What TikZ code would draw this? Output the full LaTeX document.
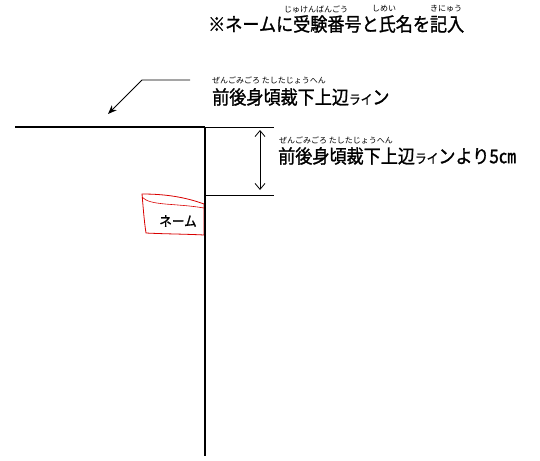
\documentclass[tikz,border=0pt]{standalone}
\usepackage{fontspec}
\newfontfamily\jp{Noto Sans CJK JP}
\newfontfamily\jpmain[FakeStretch=0.9,FakeBold=1.2]{Noto Sans CJK JP}
\usetikzlibrary{arrows.meta}
\begin{document}
\begin{tikzpicture}[x=1pt,y=-1pt,
  main/.style={inner sep=0pt,anchor=west,font=\jpmain\fontsize{19}{19}\selectfont},
  ruby/.style={inner sep=0pt,anchor=west,font=\jp\fontsize{8}{8}\selectfont},
  thick line/.style={line width=2pt,black},
  thin line/.style={line width=0.8pt,black}]
\useasboundingbox (0,0) rectangle (540,460);
% title
\node[main] (title) at (208,24) {※ネームに受験番号と氏名を記入};
\node[ruby] (r1) at (284,9) {じゅけんばんごう};
\node[ruby] (r2) at (372,9) {しめい};
\node[ruby] (r3) at (430,9) {きにゅう};
% top label
\node[main] (lab1) at (212,97) {前後身頃裁下上辺{\fontsize{13}{13}\selectfont ライ}ン};
\node[ruby] (r4) at (212,80) {ぜんごみごろ\ たしたじょうへん};
\coordinate (a0) at (190,80);
\coordinate (a1) at (142,80);
\coordinate (a2) at (108,114);
\draw[thin line,-{Stealth[length=9pt,width=7pt]}] (a0) -- (a1) -- (a2);
% name tag
\draw[red!85!black,line width=0.8pt,fill=white]
  (142,194) .. controls (165,194) and (185,197) .. (204,204)
  -- (204,235) .. controls (185,234) and (165,234) .. (146,233)
  .. controls (144,220) and (143,205) .. (142,194) -- cycle;
\draw[red!85!black,line width=0.6pt]
  (142,197) .. controls (150,206) and (175,203) .. (204,208);
\node[inner sep=0pt,font=\jpmain\fontsize{14}{14}\selectfont] (tag) at (178,221) {ネーム};
% lines
\coordinate (h0) at (15,127);
\coordinate (c) at (205,127);
\coordinate (v1) at (205,456);
\draw[thick line] (h0) -- (c);
\draw[thick line] (c) -- (v1);
\coordinate (t0) at (205,127);
\coordinate (t1) at (274,127);
\coordinate (b0) at (205,195);
\coordinate (b1) at (274,195);
\draw[thin line] (t0) -- (t1);
\draw[thin line] (b0) -- (b1);
\coordinate (d0) at (260,130);
\coordinate (d1) at (260,190);
\draw[thin line,{Straight Barb[length=6pt,width=10pt]}-{Straight Barb[length=6pt,width=10pt]}] (d0) -- (d1);
% right label
\node[main] (lab2) at (278,156) {前後身頃裁下上辺{\fontsize{13}{13}\selectfont ライ}ンより5㎝};
\node[ruby] (r5) at (279,140) {ぜんごみごろ\ たしたじょうへん};
\end{tikzpicture}
\end{document}
